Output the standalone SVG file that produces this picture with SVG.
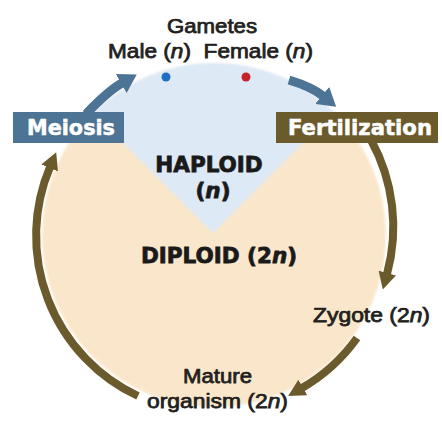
<svg xmlns="http://www.w3.org/2000/svg" width="442" height="422" viewBox="0 0 442 422">
<style>
.lbl{font-family:"Liberation Sans",Arial,sans-serif;font-size:20px;fill:#231f20;stroke:#231f20;stroke-width:0.75px}
.big{font-family:"DejaVu Sans",sans-serif;font-weight:bold;font-size:21.5px;fill:#1a1a1a;stroke:#1a1a1a;stroke-width:0.8px;text-anchor:middle}
.box{font-family:"DejaVu Sans",sans-serif;font-weight:bold;font-size:20.5px;fill:#ffffff;stroke:#ffffff;stroke-width:0.5px}
.olive{fill:none;stroke:#6b5a2c;stroke-width:8}
.blue{fill:none;stroke:#4d7395;stroke-width:9}
</style>
<defs>
<clipPath id="circ"><circle cx="214" cy="235" r="172"/></clipPath>
<filter id="soft" x="-10%" y="-10%" width="120%" height="120%"><feGaussianBlur stdDeviation="1.3"/></filter>
<marker id="ho" markerUnits="userSpaceOnUse" viewBox="0 0 17 18" markerWidth="17" markerHeight="18" refX="1" refY="9" orient="auto"><path d="M0,0 L17,9 L0,18 z" fill="#6b5a2c"/></marker>
<marker id="hb" markerUnits="userSpaceOnUse" viewBox="0 0 18 22" markerWidth="18" markerHeight="22" refX="1" refY="11" orient="auto"><path d="M0,0 L18,11 L0,22 z" fill="#4d7395"/></marker>
</defs>
<rect width="442" height="422" fill="#ffffff"/>
<g id="background" filter="url(#soft)">
<circle cx="214" cy="235" r="172" fill="#fae7cb"/>
<path d="M213 233 L20 40 L406 40 Z" fill="#dde9f5" clip-path="url(#circ)"/>
</g>
<g id="connectors">
<path class="olive" d="M371 140 A180 180 0 0 1 387 274" marker-end="url(#ho)"/>
<path class="olive" d="M357 338 A176 176 0 0 1 302 388" marker-end="url(#ho)"/>
<path class="olive" d="M138 396 A177 177 0 0 1 50 167" marker-end="url(#ho)"/>
<path class="blue" d="M86 114 Q108 91 122 83" marker-end="url(#hb)"/>
<path class="blue" d="M289 80 Q312 87 323 96" marker-end="url(#hb)"/>
</g>
<g id="gametes">
<text class="lbl" x="167" y="33" textLength="90" lengthAdjust="spacingAndGlyphs">Gametes</text>
<text class="lbl" x="108" y="57.5" textLength="205" lengthAdjust="spacingAndGlyphs" xml:space="preserve">Male (<tspan font-style="italic">n</tspan>)  Female (<tspan font-style="italic">n</tspan>)</text>
<circle cx="166" cy="77" r="4.5" fill="#1e6fc2"/>
<circle cx="246" cy="77" r="4.5" fill="#c4222c"/>
</g>
<g id="meiosis">
<rect x="13" y="112" width="111" height="31" fill="#4d7395"/>
<text class="box" x="27" y="135" textLength="88" lengthAdjust="spacingAndGlyphs">Meiosis</text>
</g>
<g id="fertilization">
<rect x="276" y="112" width="162" height="31" fill="#6b5a2c"/>
<text class="box" x="288" y="134.5" textLength="144" lengthAdjust="spacingAndGlyphs">Fertilization</text>
</g>
<g id="haploid">
<text class="big" x="209" y="172">HAPLOID</text>
<text class="big" x="213" y="198">(<tspan font-style="italic">n</tspan>)</text>
</g>
<g id="diploid">
<text class="big" x="219" y="263" font-size="21">DIPLOID (2<tspan font-style="italic">n</tspan>)</text>
</g>
<g id="zygote">
<text class="lbl" x="313" y="322" textLength="117" lengthAdjust="spacingAndGlyphs">Zygote (2<tspan font-style="italic">n</tspan>)</text>
</g>
<g id="mature">
<text class="lbl" x="183" y="383" textLength="69" lengthAdjust="spacingAndGlyphs">Mature</text>
<text class="lbl" x="147" y="408" textLength="141" lengthAdjust="spacingAndGlyphs">organism (2<tspan font-style="italic">n</tspan>)</text>
</g>
</svg>
